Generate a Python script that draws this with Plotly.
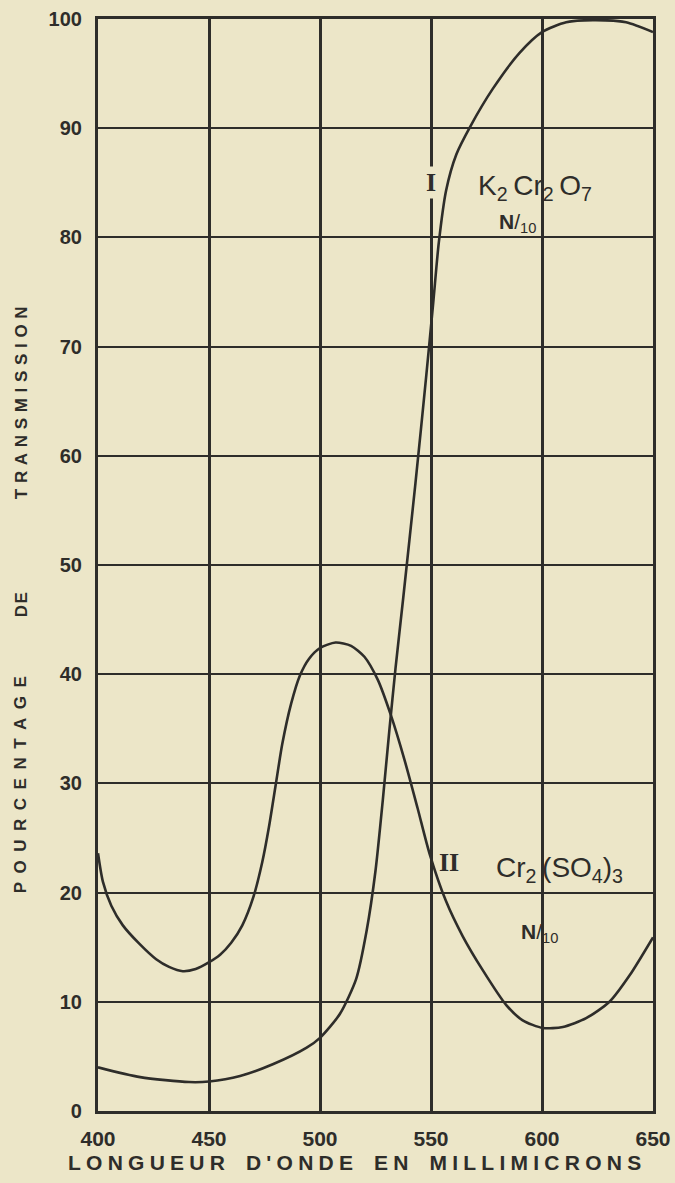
import plotly.graph_objects as go

# ---- data ----
# Curve I : K2Cr2O7 N/10
wl_I = [400, 419, 441, 450, 464, 479, 494, 500, 509, 516.3, 521, 525, 528.3, 531.3,
        534, 537.5, 543, 547.8, 551, 553.5, 556.8, 561.4, 567.8, 577.8,
        589.9, 600, 610.9, 622.9, 637.9, 650]
tr_I = [4.0, 3.1, 2.65, 2.7, 3.2, 4.3, 5.8, 6.7, 8.9, 12.1, 16.5, 22.0, 28.5, 35.0,
        40.5, 47.0, 57.5, 67.2, 74.0, 79.5, 84.3, 87.6, 90.2, 93.6,
        96.9, 98.8, 99.7, 99.9, 99.7, 98.8]

# Curve II : Cr2(SO4)3 N/10
wl_II = [400, 402.2, 406, 411.2, 418.7, 426.2, 432, 438.2, 444, 449.9, 455, 460, 465,
         470, 474, 477, 480, 483, 487, 491, 495, 500, 507, 514, 520, 526, 532, 538,
         544, 549.3, 556.8, 564.3, 573.3, 583.9, 591.3, 600.4, 609.4, 619.9, 630.4,
         639.4, 650]
tr_II = [23.6, 21.0, 18.8, 17.0, 15.3, 13.9, 13.2, 12.8, 13.0, 13.6, 14.3, 15.4, 17.0,
         19.6, 22.8, 26.0, 29.8, 33.6, 37.3, 39.9, 41.4, 42.4, 42.9, 42.6, 41.6, 39.5,
         36.2, 32.2, 27.7, 23.6, 19.2, 16.0, 12.9, 9.7, 8.3, 7.6, 7.7, 8.5, 10.0,
         12.4, 15.9]

x_ticks = [400, 450, 500, 550, 600, 650]
y_ticks = [0, 10, 20, 30, 40, 50, 60, 70, 80, 90, 100]

x_title = "LONGUEUR D'ONDE EN MILLIMICRONS"
y_title_words = ["POURCENTAGE", "DE", "TRANSMISSION"]
y_title_pos = [29.9, 46.4, 64.9]

BG = "#ece6c8"
INK = "#2e2d2a"
FONT = "Liberation Sans"


def spaced(word, sep):
    return sep.join(list(word))


fig = go.Figure()
for xs, ys in [(wl_I, tr_I), (wl_II, tr_II)]:
    fig.add_trace(go.Scatter(
        x=xs, y=ys, mode="lines",
        line=dict(color=INK, width=2.6, shape="spline", smoothing=0.7),
        hoverinfo="skip", showlegend=False))

fig.update_layout(
    width=675, height=1183,
    margin=dict(l=98, r=22, t=19, b=72),
    paper_bgcolor=BG, plot_bgcolor=BG,
    font=dict(family=FONT, color=INK),
    xaxis=dict(range=[400, 650], tickvals=x_ticks, ticktext=[str(v) for v in x_ticks],
               showgrid=True, gridcolor=INK, gridwidth=2.8, automargin=False,
               showline=True, linecolor=INK, linewidth=3.2, mirror=True,
               zeroline=False, ticks="", ticklabelstandoff=7,
               tickfont=dict(family=FONT, size=21, color=INK, weight="bold")),
    yaxis=dict(range=[0, 100], tickvals=y_ticks, ticktext=[str(v) for v in y_ticks],
               showgrid=True, gridcolor=INK, gridwidth=2.2, automargin=False,
               showline=True, linecolor=INK, linewidth=3.2, mirror=True,
               zeroline=False, ticks="", ticklabelstandoff=9,
               tickfont=dict(family=FONT, size=20, color=INK, weight="bold")),
)

# x-axis title (letter spaced)
xt = "\u2002\u2002".join(spaced(w, "\u2005") for w in x_title.split(" "))
fig.add_annotation(text=xt, xref="paper", yref="paper", x=0.462, y=-0.0475,
                   xanchor="center", yanchor="middle", showarrow=False,
                   font=dict(family=FONT, size=21, color=INK, weight="bold"))

# y-axis title words
seps = ["\u2002", "\u200a", "\u2004"]
for w, yp, sp in zip(y_title_words, y_title_pos, seps):
    fig.add_annotation(text=spaced(w, sp), xref="paper", yref="y", x=-0.139, y=yp,
                       xanchor="center", yanchor="middle", textangle=-90, showarrow=False,
                       font=dict(family=FONT, size=17, color=INK, weight="bold"))

# curve labels
fig.add_annotation(text="I", x=550, y=85, showarrow=False, bgcolor=BG,
                   font=dict(family="Liberation Serif", size=26, color=INK, weight="bold"))
fig.add_annotation(text="K<sub>2</sub>\u2009Cr<sub>2</sub>\u2009O<sub>7</sub>", x=597, y=84.6,
                   showarrow=False, font=dict(family=FONT, size=28, color=INK))
fig.add_annotation(text="<b>N</b>/<sub>10</sub>", x=589, y=81.3, showarrow=False,
                   font=dict(family=FONT, size=21, color=INK))
fig.add_annotation(text="II", x=558, y=22.8, showarrow=False,
                   font=dict(family="Liberation Serif", size=26, color=INK, weight="bold"))
fig.add_annotation(text="Cr<sub>2</sub>\u2009(SO<sub>4</sub>)<sub>3</sub>", x=608, y=22.1,
                   showarrow=False, font=dict(family=FONT, size=28, color=INK))
fig.add_annotation(text="<b>N</b>/<sub>10</sub>", x=599, y=16.3, showarrow=False,
                   font=dict(family=FONT, size=21, color=INK))

fig.write_html("out.html",
               config={"displayModeBar": False},
               post_script="document.body.style.margin='0';"
                           "document.body.style.background='" + BG + "';")
